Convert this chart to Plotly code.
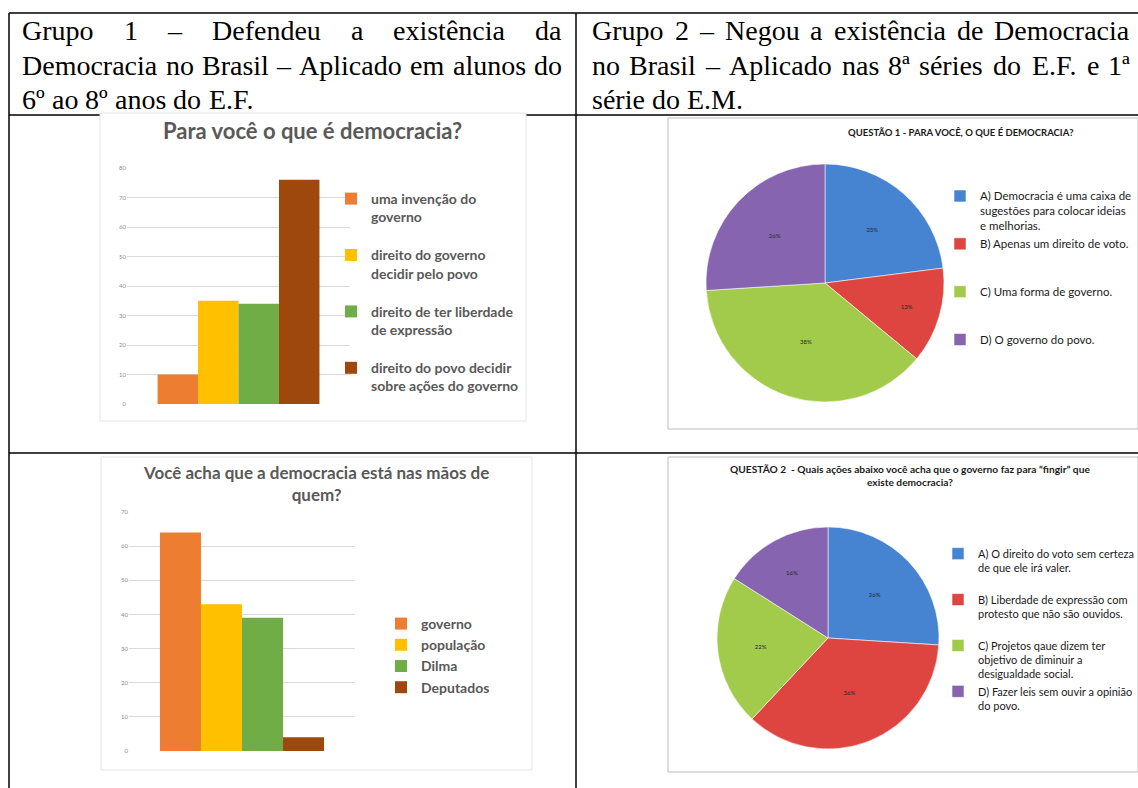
import plotly.graph_objects as go

W, H = 1138, 788


def px(x):
    return x / W


def py(y):
    return 1 - y / H


# ---------------- data ----------------
header_left = ["Grupo 1 – Defendeu a existência da",
               "Democracia no Brasil – Aplicado em alunos do",
               "6º ao 8º anos do E.F."]
header_right = ["Grupo 2 – Negou a existência de Democracia",
                "no Brasil – Aplicado nas 8ª séries do E.F. e 1ª",
                "série do E.M."]

q1_category = ["Para você o que é democracia?"]
q1_labels = ["uma invenção do<br>governo", "direito do governo<br>decidir pelo povo",
             "direito de ter liberdade<br>de expressão", "direito do povo decidir<br>sobre ações do governo"]
q1_values = [10, 35, 34, 76]

q2_category = ["Você acha que a democracia está nas mãos de quem?"]
q2_labels = ["governo", "população", "Dilma", "Deputados"]
q2_values = [64, 43, 39, 4]

p1_title = "QUESTÃO 1 - PARA VOCÊ, O QUE É DEMOCRACIA?"
p1_labels = ["A) Democracia é uma caixa de<br>sugestões para colocar ideias<br>e melhorias.",
             "B) Apenas um direito de voto.",
             "C) Uma forma de governo.",
             "D) O governo do povo."]
p1_values = [23, 13, 38, 26]

p2_title = "QUESTÃO 2  - Quais ações abaixo você acha que o governo faz para “fingir” que<br>existe democracia?"
p2_labels = ["A) O direito do voto sem certeza<br>de que ele irá valer.",
             "B) Liberdade de expressão com<br>protesto que não são ouvidos.",
             "C) Projetos qaue dizem ter<br>objetivo de diminuir a<br>desigualdade social.",
             "D) Fazer leis sem ouvir a opinião<br>do povo."]
p2_values = [26, 36, 22, 16]

bar_colors = ["#ED7D31", "#FFC000", "#70AD47", "#9E480E"]
pie_colors = ["#4683D0", "#DF4540", "#A3CB4B", "#8664B0"]


def pad_lines(label, n=3):
    k = label.count("<br>") + 1
    return label + "<br>\u00a0" * (n - k)


fig = go.Figure()

for i, (lab, val) in enumerate(zip(q1_labels, q1_values)):
    fig.add_trace(go.Bar(x=q1_category, y=[val], name=lab, marker_color=bar_colors[i],
                         marker_line_width=0, xaxis="x", yaxis="y", legend="legend",
                         legendgroup="a%d" % i))

for i, (lab, val) in enumerate(zip(q2_labels, q2_values)):
    fig.add_trace(go.Bar(x=q2_category, y=[val], name=lab, marker_color=bar_colors[i],
                         marker_line_width=0, xaxis="x2", yaxis="y2", legend="legend2"))

pie_common = dict(sort=False, direction="clockwise", rotation=0,
                  marker=dict(colors=pie_colors, line=dict(color="rgba(255,255,255,0.7)", width=0.8)),
                  texttemplate="%{percent:.0%}", textposition="inside",
                  insidetextorientation="horizontal",
                  textfont=dict(size=6, color="#262626", family="Lato"))

fig.add_trace(go.Pie(labels=[pad_lines(l) for l in p1_labels], values=p1_values,
                     domain=dict(x=[px(706), px(944)], y=[py(402), py(164)]),
                     legend="legend3", **pie_common))

fig.add_trace(go.Pie(labels=[pad_lines(l) for l in p2_labels], values=p2_values,
                     domain=dict(x=[px(717), px(939)], y=[py(749), py(527)]),
                     legend="legend4", **pie_common))

tickfont = dict(size=6, color="#8c8c8c", family="Lato")
grid = "#d9d9d9"

shapes = []
line = dict(color="black", width=1.5)
# table lines
for (x0, y0, x1, y1) in [(9, 13, 1138, 13), (9, 13, 9, 788), (576, 13, 576, 788),
                         (9, 115, 1138, 115), (9, 453, 1138, 453)]:
    shapes.append(dict(type="line", xref="paper", yref="paper", x0=px(x0), y0=py(y0),
                       x1=px(x1), y1=py(y1), line=line, layer="below"))
# chart boxes
for (x0, y0, x1, y1, c) in [(100, 113, 526, 421, "#e4e4e4"), (668, 118, 1138, 429, "#bdbdbd"),
                            (101, 457, 532, 770, "#e4e4e4"), (668, 457, 1138, 772, "#bdbdbd")]:
    shapes.append(dict(type="rect", xref="paper", yref="paper", x0=px(x0), y0=py(y0),
                       x1=px(x1), y1=py(y1), fillcolor="white", line=dict(color=c, width=1),
                       layer="below"))

SERIF_SIZE = 28
serif = dict(family="Liberation Serif", size=SERIF_SIZE, color="black")
annotations = []


def ann(text, x, y, xanchor="left", font=None, yanchor="middle", align="left"):
    annotations.append(dict(text=text, x=px(x), y=py(y), xref="paper", yref="paper",
                            xanchor=xanchor, yanchor=yanchor, showarrow=False,
                            font=font or serif, align=align))


# Times/Liberation Serif advance widths (1/1000 em) for justified header lines
CHAR_W = {' ': 250, 'a': 444, 'b': 500, 'c': 444, 'd': 500, 'e': 444, 'f': 333, 'g': 500,
          'h': 500, 'i': 278, 'j': 278, 'k': 500, 'l': 278, 'm': 778, 'n': 500, 'o': 500,
          'p': 500, 'q': 500, 'r': 333, 's': 389, 't': 278, 'u': 500, 'v': 500, 'w': 722,
          'x': 500, 'y': 500, 'z': 444, 'A': 722, 'B': 667, 'C': 667, 'D': 722, 'E': 611,
          'F': 556, 'G': 722, 'M': 889, 'N': 722, '.': 250, '–': 500, 'ê': 444, 'é': 444,
          'ª': 276, 'º': 310}


def text_w(s):
    return sum(CHAR_W.get(ch, 500) for ch in s) * SERIF_SIZE / 1000


def header_line(text, x0, x1, y, justify=True):
    words = text.split(" ")
    ws = [text_w(w) for w in words]
    gap = (x1 - x0 - sum(ws)) / (len(words) - 1) if justify else text_w(" ")
    x = x0
    for w, wd in zip(words, ws):
        ann(w, x + wd / 2, y, xanchor="center")
        x += wd + gap


header_y = [31, 65, 99]
for k, t in enumerate(header_left):
    header_line(t, 22, 562, header_y[k], justify=(k < 2))
for k, t in enumerate(header_right):
    header_line(t, 592, 1130, header_y[k], justify=(k < 2))

title_font = dict(family="Lato", size=22, color="#595959", weight="bold")
ann(q1_category[0], 312, 130, xanchor="center", font=title_font, align="center")
ann("Você acha que a democracia está nas mãos de<br>quem?", 316, 483, xanchor="center",
    font=dict(family="Lato", size=17, color="#595959", weight="bold"), align="center")
ann(p1_title, 961, 133, xanchor="center",
    font=dict(family="Lato", size=9.5, color="#1a1a1a", weight="bold"), align="center")
ann(p2_title, 910, 475, xanchor="center",
    font=dict(family="Lato", size=10.2, color="#1a1a1a", weight="bold"), align="center")

legfont_bar = dict(family="Lato", size=14, color="#595959", weight="bold")

fig.update_layout(
    width=W, height=788, autosize=False,
    margin=dict(l=0, r=0, t=0, b=0, autoexpand=False),
    paper_bgcolor="white", plot_bgcolor="rgba(0,0,0,0)",
    barmode="group", bargap=0.274, bargroupgap=0,
    xaxis=dict(domain=[px(127), px(350)], anchor="y", showticklabels=False, showgrid=False,
               zeroline=False, showline=False, ticks=""),
    yaxis=dict(domain=[py(404), py(168)], anchor="x", range=[0, 80], dtick=10,
               gridcolor=grid, gridwidth=1, zeroline=False, showline=False,
               tickfont=tickfont, ticks=""),
    xaxis2=dict(domain=[px(129), px(355)], anchor="y2", showticklabels=False, showgrid=False,
                zeroline=False, showline=False, ticks=""),
    yaxis2=dict(domain=[py(751), py(512)], anchor="x2", range=[0, 70], dtick=10,
                gridcolor=grid, gridwidth=1, zeroline=False, showline=False,
                tickfont=tickfont, ticks=""),
    legend=dict(x=px(331), y=py(183), xanchor="left", yanchor="top", font=legfont_bar,
                traceorder="grouped", tracegroupgap=17, valign="top",
                bgcolor="rgba(0,0,0,0)"),
    legend2=dict(x=px(381), y=py(608), xanchor="left", yanchor="top", font=legfont_bar,
                 traceorder="normal", valign="middle", bgcolor="rgba(0,0,0,0)"),
    legend3=dict(x=px(940), y=py(182), xanchor="left", yanchor="top",
                 font=dict(family="Lato", size=11.5, color="#1a1a1a"),
                 traceorder="normal", valign="top", bgcolor="rgba(0,0,0,0)"),
    legend4=dict(x=px(938), y=py(540), xanchor="left", yanchor="top",
                 font=dict(family="Lato", size=11, color="#1a1a1a"),
                 traceorder="normal", valign="top", bgcolor="rgba(0,0,0,0)"),
    shapes=shapes,
    annotations=annotations,
    showlegend=True,
)

fig.write_html("out.html")
